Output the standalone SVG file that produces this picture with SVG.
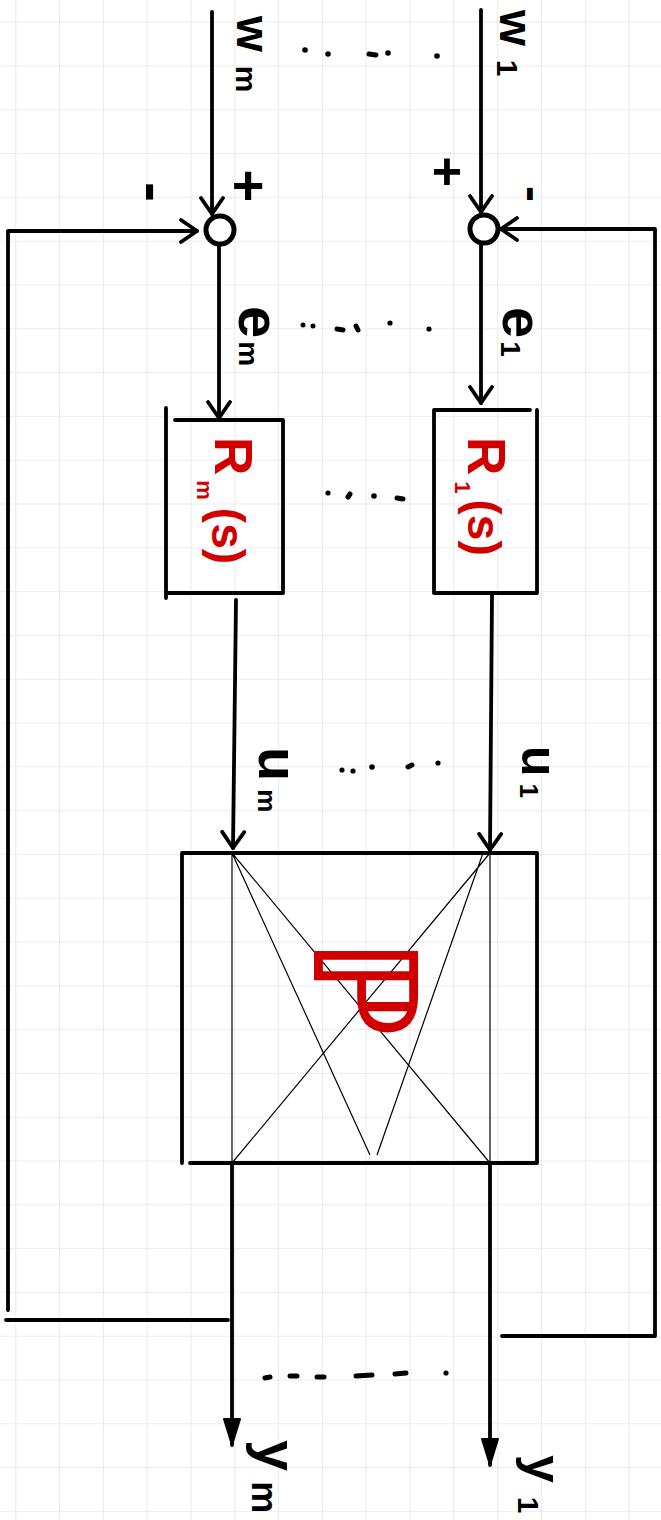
<svg xmlns="http://www.w3.org/2000/svg" width="661" height="1520" viewBox="0 0 661 1520">
<style>
.ln{fill:none;stroke:#000;stroke-width:3.8;stroke-linecap:round;stroke-linejoin:round}
.sum{fill:none;stroke:#000;stroke-width:5}
.thin{fill:none;stroke:#000;stroke-width:1.2}
.lbl{font-family:"Liberation Sans",sans-serif;fill:#000;font-weight:bold}
.red{font-family:"Liberation Sans",sans-serif;fill:#d00000;font-weight:bold}
.dot{fill:#000}
.dash{stroke:#000;stroke-width:5;stroke-linecap:round}
</style>
<defs>
<pattern id="grid" patternUnits="userSpaceOnUse" x="15.3" y="21.7" width="43.8" height="43.8">
<path d="M0,0 H43.8 M0,0 V43.8" fill="none" stroke="#dcdcdc" stroke-width="1.2"/>
</pattern>
<marker id="arr" viewBox="0 0 22 26" refX="19" refY="13" markerWidth="22" markerHeight="26" markerUnits="userSpaceOnUse" orient="auto">
<path d="M3,2 L19,13 L3,24" fill="none" stroke="#000" stroke-width="3.8" stroke-linecap="round" stroke-linejoin="round"/>
</marker>
<marker id="arrf" viewBox="0 0 30 22" refX="28" refY="11" markerWidth="30" markerHeight="22" markerUnits="userSpaceOnUse" orient="auto">
<path d="M2,3 L28,11 L2,19 Z" fill="#000" stroke="#000" stroke-width="2" stroke-linejoin="round"/>
</marker>
</defs>
<rect width="661" height="1520" fill="#fff"/>
<rect width="661" height="1520" fill="url(#grid)"/>

<g id="connectors">
<path class="ln" d="M212,12 V214" marker-end="url(#arr)"/>
<path class="ln" d="M481,10 V212" marker-end="url(#arr)"/>
<path class="ln" d="M228,1320 H6"/>
<path class="ln" d="M8,1310 V231 H197" marker-end="url(#arr)"/>
<path class="ln" d="M502,1336 H655 V229 H501" marker-end="url(#arr)"/>
<path class="ln" d="M219,245 V418" marker-end="url(#arr)"/>
<path class="ln" d="M481,245 V403" marker-end="url(#arr)"/>
<path class="ln" d="M236,600 L233,848" marker-end="url(#arr)"/>
<path class="ln" d="M492,595 L490,850" marker-end="url(#arr)"/>
<path class="ln" d="M232,1163 V1445" marker-end="url(#arrf)"/>
<path class="ln" d="M490,1163 V1465" marker-end="url(#arrf)"/>
</g>

<g id="sum_m">
<circle class="sum" cx="220" cy="230" r="14"/>
<text class="lbl" x="248" y="204" font-size="56" text-anchor="middle">+</text>
<text class="lbl" font-size="60" transform="translate(134,182) rotate(90)">-</text>
</g>
<g id="sum_1">
<circle class="sum" cx="484" cy="229" r="14"/>
<text class="lbl" x="447" y="189" font-size="52" text-anchor="middle">+</text>
<text class="lbl" font-size="48" transform="translate(517,186) rotate(90)">-</text>
</g>

<g id="R_m">
<path class="ln" d="M166,408 V598 M175,420 H283 V593 H166"/>
<text class="red" font-size="53" transform="translate(215,437) rotate(90)">R<tspan font-size="22" dx="5" dy="18">m</tspan><tspan font-size="46" dx="8" dy="-15">(s)</tspan></text>
</g>
<g id="R_1">
<path class="ln" d="M434,410 V593 H537 V410 M434,410 H530"/>
<text class="red" font-size="53" transform="translate(468,437) rotate(90)">R<tspan font-size="22" dx="6" dy="13">1</tspan><tspan font-size="46" dx="6" dy="-13">(s)</tspan></text>
</g>

<g id="P">
<path class="ln" d="M182,853 V1163 M182,853 H537 V1163 H190"/>
<path class="thin" d="M232,853 V1163 M490,853 V1163 M232,853 L490,1163 M232,853 L370,1155 M490,853 L232,1163 M483,853 L377,1155"/>
<text font-family="DejaVu Sans,sans-serif" fill="#d00000" stroke="#d00000" stroke-width="2" font-size="140" transform="translate(315,938) rotate(90)">ℙ</text>
</g>

<g id="labels">
<text class="lbl" font-size="46" transform="translate(237,16) rotate(90)">w<tspan font-size="30" dx="14" dy="1">m</tspan></text>
<text class="lbl" font-size="46" transform="translate(500,10) rotate(90)">w<tspan font-size="30" dx="14" dy="3">1</tspan></text>
<text class="lbl" font-size="58" transform="translate(239,306) rotate(90)">e<tspan font-size="28" dx="3" dy="0">m</tspan></text>
<text class="lbl" font-size="56" transform="translate(503,307) rotate(90)">e<tspan font-size="28" dx="3" dy="2">1</tspan></text>
<text class="lbl" font-size="56" transform="translate(259,747) rotate(90)">u<tspan font-size="26" dx="8" dy="1">m</tspan></text>
<text class="lbl" font-size="50" transform="translate(522,746) rotate(90)">u<tspan font-size="26" dx="7" dy="2">1</tspan></text>
<text class="lbl" font-size="56" transform="translate(258,1440) rotate(90)">y<tspan font-size="36" dx="10" dy="6">m</tspan></text>
<text class="lbl" font-size="50" transform="translate(526,1455) rotate(90)">y<tspan font-size="30" dx="14" dy="8">1</tspan></text>
</g>

<g id="ellipses">
<circle class="dot" cx="305" cy="50" r="2.8"/><circle class="dot" cx="328" cy="54" r="2.8"/>
<line class="dash" x1="369" y1="54" x2="376" y2="55"/><circle class="dot" cx="388" cy="53" r="2.8"/>
<circle class="dot" cx="437" cy="56" r="2.8"/>
<circle class="dot" cx="303" cy="325" r="2.5"/><circle class="dot" cx="313" cy="326" r="2.5"/>
<line class="dash" x1="337" y1="329" x2="343" y2="330"/><line class="dash" x1="356" y1="326" x2="358" y2="330"/>
<circle class="dot" cx="390" cy="323" r="2.6"/><circle class="dot" cx="429" cy="329" r="2.6"/>
<circle class="dot" cx="328" cy="493" r="2.6"/><line class="dash" x1="348" y1="497" x2="350" y2="494"/>
<circle class="dot" cx="374" cy="496" r="2.8"/><line class="dash" x1="397" y1="498" x2="403" y2="499"/>
<circle class="dot" cx="342" cy="770" r="2.6"/><circle class="dot" cx="353" cy="771" r="2.6"/>
<circle class="dot" cx="372" cy="767" r="2.8"/><line class="dash" x1="408" y1="767" x2="412" y2="765"/>
<circle class="dot" cx="438" cy="763" r="2.6"/>
<line class="dash" x1="265" y1="1378" x2="270" y2="1377"/><line class="dash" x1="290" y1="1376" x2="297" y2="1376"/>
<line class="dash" x1="317" y1="1377" x2="324" y2="1377"/><line class="dash" x1="356" y1="1376" x2="372" y2="1375"/>
<line class="dash" x1="395" y1="1374" x2="406" y2="1373"/><circle class="dot" cx="446" cy="1373" r="2.6"/>
</g>
</svg>
